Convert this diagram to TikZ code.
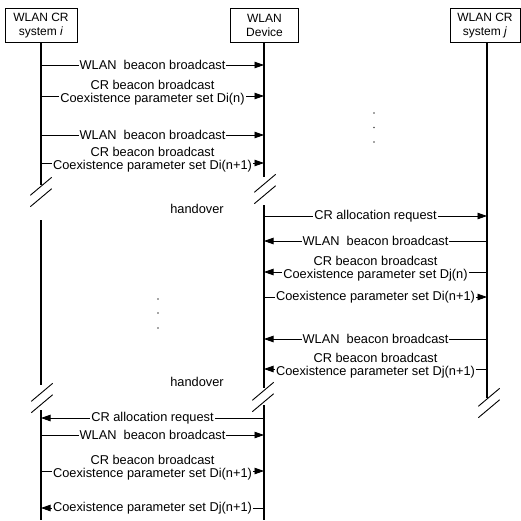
\documentclass[tikz,border=0pt]{standalone}
\usepackage{fontspec}
\setmainfont{Liberation Sans}
\usetikzlibrary{arrows.meta}
\begin{document}
\begin{tikzpicture}[x=1pt,y=-1pt,
  actor/.style={draw, line width=0.9pt, inner sep=0pt, align=center,
    minimum height=34pt, font=\fontsize{12}{13.5}\selectfont},
  life/.style={line width=1.3pt},
  msg/.style={line width=0.8pt, -{Triangle[length=9.5pt,width=6.5pt]}},
  lbl/.style={fill=white, inner xsep=1pt, inner ysep=0.3pt, align=center,
    font=\fontsize{12.8}{13.2}\selectfont},
  two/.style={lbl, yshift=3.5pt},
  plain/.style={font=\fontsize{12.8}{13.2}\selectfont},
  brk/.style={line width=0.9pt},
  breakmark/.pic={
    \draw[brk] (-10.7,3.3) -- (10.7,-14.7);
    \draw[brk] (-10.7,14.7) -- (10.7,-3.3);}]
\useasboundingbox (0,0) rectangle (521,520);

% actors
\node[actor, minimum width=72pt] (si) at (41,25.5) {WLAN CR\\system \textit{i}};
\node[actor, minimum width=68pt] (dev) at (264.5,25.5) {WLAN\\Device};
\node[actor, minimum width=70pt] (sj) at (485,25.5) {WLAN CR\\system \textit{j}};
\coordinate (jx) at (487,0);

% lifelines
\coordinate (i1) at (41,185);  \coordinate (i2) at (41,220);
\coordinate (i3) at (41,385);  \coordinate (i4) at (41,410);
\coordinate (i5) at (41,520);
\coordinate (d1) at (264,177); \coordinate (d2) at (264,205);
\coordinate (d3) at (264,388); \coordinate (d4) at (264,405);
\coordinate (d5) at (264,520);
\coordinate (j1) at (487,398);
\draw[life] (si.south) -- (i1);
\draw[life] (i2) -- (i3);
\draw[life] (i4) -- (i5);
\draw[life] (dev.south -| d1) -- (d1);
\draw[life] (d2) -- (d3);
\draw[life] (d4) -- (d5);
\draw[life] (sj.south -| jx) -- (j1);

% break marks
\pic at (41,192) {breakmark};
\pic at (265,189) {breakmark};
\pic at (42,398) {breakmark};
\pic at (263,397) {breakmark};
\pic at (489,403) {breakmark};

% message end points
\foreach \n/\y in {1/65,2/96,3/135,4/163,5/216,6/241,7/272,8/297,9/339,10/369,11/418,12/435,13/471,14/508}{
  \coordinate (mi\n) at (41,\y);
  \coordinate (md\n) at (264,\y);
  \coordinate (mj\n) at (487,\y);
}

% messages
\draw[msg] (mi1) -- node[lbl] {WLAN \ beacon broadcast} (md1);
\draw[msg] (mi2) -- node[two] {CR beacon broadcast\\Coexistence parameter set Di(n)} (md2);
\draw[msg] (mi3) -- node[lbl] {WLAN \ beacon broadcast} (md3);
\draw[msg] (mi4) -- node[two] {CR beacon broadcast\\Coexistence parameter set Di(n+1)} (md4);
\draw[msg] (md5) -- node[lbl] {CR allocation request} (mj5);
\draw[msg] (mj6) -- node[lbl] {WLAN \ beacon broadcast} (md6);
\draw[msg] (mj7) -- node[two] {CR beacon broadcast\\Coexistence parameter set Dj(n)} (md7);
\draw[msg] (md8) -- node[lbl] {Coexistence parameter set Di(n+1)} (mj8);
\draw[msg] (mj9) -- node[lbl] {WLAN \ beacon broadcast} (md9);
\draw[msg] (mj10) -- node[two] {CR beacon broadcast\\Coexistence parameter set Dj(n+1)} (md10);
\draw[msg] (md11) -- node[lbl] {CR allocation request} (mi11);
\draw[msg] (mi12) -- node[lbl] {WLAN \ beacon broadcast} (md12);
\draw[msg] (mi13) -- node[two] {CR beacon broadcast\\Coexistence parameter set Di(n+1)} (md13);
\draw[msg] (md14) -- node[lbl] {Coexistence parameter set Dj(n+1)} (mi14);

% handover labels
\node[plain] (h1) at (197,209) {handover};
\node[plain] (h2) at (197,382) {handover};

% continuation dots
\foreach \y in {299,313,328} \fill[black!70] (158,\y) circle (0.8pt);
\foreach \y in {113,127.5,142} \fill[black!70] (374,\y) circle (0.8pt);
\end{tikzpicture}
\end{document}
